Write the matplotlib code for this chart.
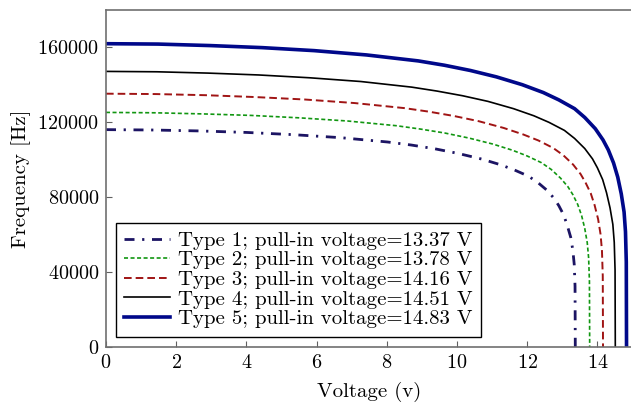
import numpy as np
import matplotlib
matplotlib.use("Agg")
import matplotlib.pyplot as plt

plt.rcParams['font.family'] = 'serif'
plt.rcParams['font.serif'] = ['cmr10', 'DejaVu Serif']
plt.rcParams['mathtext.fontset'] = 'cm'
plt.rcParams['axes.formatter.use_mathtext'] = True
plt.rcParams['lines.scale_dashes'] = False

# curves: voltage (V) and frequency (Hz)
v1 = [0, 1.34, 2.67, 4.01, 5.35, 6.69, 8.02, 8.69, 9.36, 10.03, 10.70, 11.23, 11.63, 12.03,
      12.30, 12.57, 12.77, 12.90, 13.04, 13.14, 13.24, 13.30, 13.34, 13.363, 13.37]
f1 = [116100, 115900, 115400, 114600, 113400, 111800, 109500, 107900, 105900, 103400, 100400, 97400, 94600, 91300,
      87900, 83600, 79300, 75500, 70500, 65000, 58600, 51700, 44100, 32500, 0]

v2 = [0, 1.38, 2.76, 4.13, 5.51, 6.89, 8.27, 8.96, 9.65, 10.34, 11.02, 11.58, 11.99, 12.40,
      12.68, 12.95, 13.16, 13.30, 13.44, 13.55, 13.64, 13.71, 13.75, 13.773, 13.78]
f2 = [125300, 125100, 124500, 123700, 122400, 120700, 118200, 116400, 114300, 111600, 108400, 105100, 102100, 98500,
      94900, 90200, 85600, 81400, 76100, 70200, 63300, 55800, 47600, 35100, 0]

v3 = [0, 1.42, 2.83, 4.25, 5.66, 7.08, 8.50, 9.20, 9.91, 10.62, 11.33, 11.89, 12.32, 12.74,
      13.03, 13.31, 13.52, 13.66, 13.81, 13.92, 14.02, 14.09, 14.13, 14.153, 14.16]
f3 = [135300, 135100, 134500, 133500, 132200, 130300, 127600, 125700, 123400, 120600, 117000, 113500, 110300, 106300,
      102400, 97400, 92400, 87900, 82100, 75800, 68300, 60200, 51400, 37900, 0]

v4 = [0, 1.45, 2.90, 4.35, 5.80, 7.26, 8.71, 9.43, 10.16, 10.88, 11.61, 12.19, 12.62, 13.06,
      13.35, 13.64, 13.86, 14.00, 14.15, 14.26, 14.36, 14.44, 14.48, 14.503, 14.51]
f4 = [147200, 147000, 146300, 145300, 143800, 141800, 138800, 136700, 134200, 131200, 127300, 123500, 120000, 115700,
      111400, 106000, 100500, 95700, 89400, 82400, 74300, 65500, 55900, 41200, 0]

v5 = [0, 1.48, 2.97, 4.45, 5.93, 7.42, 8.90, 9.64, 10.38, 11.12, 11.86, 12.46, 12.90, 13.35,
      13.64, 13.94, 14.16, 14.31, 14.46, 14.58, 14.68, 14.76, 14.80, 14.823, 14.83]
f5 = [162000, 161800, 161000, 159900, 158300, 156000, 152800, 150500, 147700, 144300, 140100, 135900, 132000, 127300,
      122600, 116600, 110600, 105300, 98300, 90700, 81800, 72100, 61600, 45400, 0]

labels = ['Type 1; pull-in voltage=13.37 V',
          'Type 2; pull-in voltage=13.78 V',
          'Type 3; pull-in voltage=14.16 V',
          'Type 4; pull-in voltage=14.51 V',
          'Type 5; pull-in voltage=14.83 V']

fig = plt.figure(figsize=(6.31, 4.03), dpi=100)
ax = fig.add_axes([106/631, 56/403, 526.5/631, 337/403])

ax.plot(v1, f1, color='#1c1463', lw=2.0, dashes=(7.2, 5.5, 1.6, 5.5), label=labels[0])
ax.plot(v2, f2, color='#119611', lw=1.2, dashes=(2.9, 1.8), label=labels[1])
ax.plot(v3, f3, color='#a01414', lw=1.4, dashes=(5.5, 2.9), label=labels[2])
ax.plot(v4, f4, color='black', lw=1.2, label=labels[3])
ax.plot(v5, f5, color='#00088a', lw=2.6, label=labels[4])

ax.set_xlim(0, 15)
ax.set_ylim(0, 180000)
ax.set_xticks(np.arange(0, 15, 2))
ax.set_yticks(np.arange(0, 180000, 40000))
ax.tick_params(direction='in', length=4, color='#606060', labelsize=14.5, pad=5)
for s in ax.spines.values():
    s.set_color('#707070')
    s.set_linewidth(1.2)

ax.set_xlabel('Voltage (v)', fontsize=15, labelpad=7)
ax.set_ylabel('Frequency [Hz]', fontsize=15, labelpad=5)

leg = ax.legend(loc='lower left', bbox_to_anchor=(0.0184, 0.0306), borderaxespad=0,
                fontsize=15, handlelength=2.2, handletextpad=0.4, labelspacing=0.05,
                borderpad=0.4, fancybox=False, framealpha=1)
leg.get_frame().set_edgecolor('black')
leg.get_frame().set_linewidth(1.0)

fig.savefig('out.png', dpi=100)
